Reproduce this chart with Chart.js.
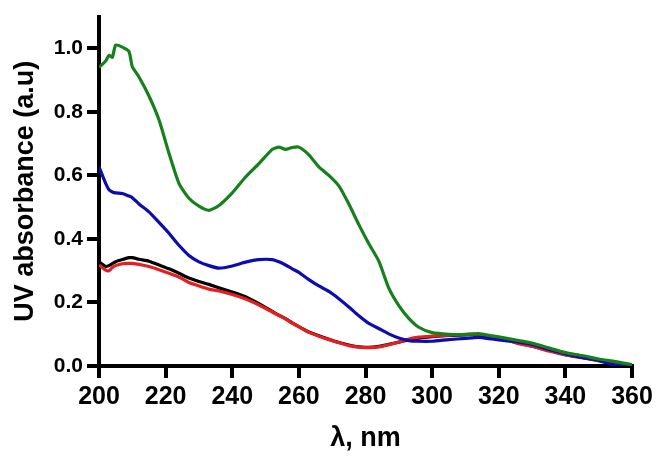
<!DOCTYPE html>
<html>
<head>
<meta charset="utf-8">
<script src="https://cdn.jsdelivr.net/npm/chart.js@4.4.1/dist/chart.umd.min.js"></script>
<style>
  body { margin: 0; background: #fff; }
  canvas { display: block; }
</style>
</head>
<body>
<canvas id="uv" width="664" height="463"></canvas>
<script>
// wavelength grid (nm)
var wavelengths = [200, 202, 203, 204, 205, 207, 209, 210, 212, 215, 218, 221, 224, 227, 230, 233, 236, 240, 244, 248,
  252, 254, 256, 258, 260, 263, 266, 269, 272, 275, 278, 281, 284, 287, 290, 293, 296, 300, 305, 310,
  314, 318, 322, 326, 330, 335, 340, 345, 350, 355, 360];

var greenAbs = [0.94, 0.96, 0.978, 0.972, 1.01, 1.004, 0.99, 0.942, 0.91, 0.85, 0.775, 0.67, 0.575, 0.528, 0.503, 0.49, 0.505, 0.545, 0.595, 0.637,
  0.682, 0.689, 0.682, 0.688, 0.689, 0.665, 0.627, 0.6, 0.567, 0.51, 0.445, 0.385, 0.33, 0.245, 0.19, 0.15, 0.122, 0.105, 0.1, 0.099,
  0.102, 0.095, 0.088, 0.08, 0.072, 0.057, 0.042, 0.033, 0.022, 0.014, 0.004];

var blueAbs = [0.627, 0.575, 0.555, 0.548, 0.545, 0.543, 0.535, 0.53, 0.51, 0.485, 0.452, 0.418, 0.38, 0.348, 0.328, 0.316, 0.308, 0.315, 0.327, 0.335,
  0.335, 0.328, 0.318, 0.306, 0.295, 0.272, 0.252, 0.235, 0.212, 0.186, 0.158, 0.134, 0.118, 0.101, 0.088, 0.08, 0.078, 0.078, 0.083, 0.087,
  0.09, 0.085, 0.08, 0.075, 0.068, 0.052, 0.038, 0.027, 0.017, 0.003, -0.002];

var redAbs = [0.318, 0.302, 0.3, 0.31, 0.316, 0.322, 0.323, 0.323, 0.32, 0.313, 0.303, 0.292, 0.28, 0.263, 0.252, 0.242, 0.236, 0.225, 0.211, 0.192,
  0.17, 0.159, 0.148, 0.135, 0.123, 0.106, 0.094, 0.083, 0.073, 0.064, 0.059, 0.058, 0.06, 0.067, 0.075, 0.085, 0.091, 0.094, 0.097, 0.1,
  0.1, 0.093, 0.085, 0.07, 0.062, 0.047, 0.035, 0.026, 0.017, 0.008, 0.002];

var blackAbs = [0.328, 0.313, 0.316, 0.322, 0.328, 0.335, 0.341, 0.341, 0.336, 0.33, 0.318, 0.306, 0.292, 0.277, 0.266, 0.257, 0.246, 0.233, 0.218, 0.196,
  0.172, 0.16, 0.149, 0.136, 0.124, 0.107, 0.095, 0.084, 0.074, 0.066, 0.06, 0.059, 0.062, 0.068, 0.075, 0.082, 0.088, 0.092, 0.096, 0.098,
  0.099, 0.092, 0.083, 0.072, 0.062, 0.05, 0.036, 0.027, 0.018, 0.008, 0.0];

var xTicks = [200, 220, 240, 260, 280, 300, 320, 340, 360];
var yTicks = [0.0, 0.2, 0.4, 0.6, 0.8, 1.0];

function pts(vals) {
  return wavelengths.map(function (w, i) { return { x: w, y: vals[i] }; });
}

function series(vals, color) {
  return {
    data: pts(vals),
    borderColor: color,
    backgroundColor: color,
    borderWidth: 3.2,
    pointRadius: 0,
    fill: false,
    tension: 0.2
  };
}

var fontFam = '"Liberation Sans", Arial, Helvetica, sans-serif';

// outward tick marks, placed at the scales' own tick pixels
var tickMarks = {
  id: 'tickMarks',
  afterDraw: function (c) {
    var ctx = c.ctx, a = c.chartArea, len = 12, w = 4;
    ctx.save();
    ctx.fillStyle = '#000';
    c.scales.x.ticks.forEach(function (t) {
      var px = Math.round(c.scales.x.getPixelForValue(t.value));
      ctx.fillRect(px - w / 2, a.bottom, w, len);
    });
    c.scales.y.ticks.forEach(function (t) {
      var py = Math.round(c.scales.y.getPixelForValue(t.value));
      ctx.fillRect(a.left - len, py - w / 2, len, w);
    });
    ctx.restore();
  }
};

// first dataset is drawn on top
var chart = new Chart(document.getElementById('uv'), {
  type: 'line',
  data: {
    datasets: [
      series(greenAbs, '#16801a'),
      series(blueAbs, '#0c0cb0'),
      series(redAbs, '#e81e1e'),
      series(blackAbs, '#000000')
    ]
  },
  plugins: [tickMarks],
  options: {
    responsive: false,
    animation: false,
    layout: { padding: { left: 0, right: 32, top: 10, bottom: 0 } },
    plugins: { legend: { display: false }, tooltip: { enabled: false } },
    scales: {
      x: {
        type: 'linear',
        min: 200,
        max: 360,
        afterBuildTicks: function (s) { s.ticks = xTicks.map(function (v) { return { value: v }; }); },
        afterFit: function (s) { s.height = 97; },
        border: { display: true, color: '#000', width: 4 },
        grid: { drawOnChartArea: false, color: '#000', lineWidth: 4, tickLength: 12 },
        ticks: { color: '#000', padding: 4, maxRotation: 0, font: { family: fontFam, size: 25, weight: 'bold' } },
        title: {
          display: true, text: 'λ, nm', color: '#000',
          padding: { top: 0, bottom: 8 },
          font: { family: fontFam, size: 27, weight: 'bold' }
        }
      },
      y: {
        min: 0,
        max: 1.1,
        afterBuildTicks: function (s) { s.ticks = yTicks.map(function (v) { return { value: v }; }); },
        afterFit: function (s) { s.width = 99; },
        border: { display: true, color: '#000', width: 4 },
        grid: { drawOnChartArea: false, color: '#000', lineWidth: 4, tickLength: 12 },
        ticks: {
          color: '#000', padding: 4,
          font: { family: fontFam, size: 21, weight: 'bold' },
          callback: function (v) { return Number(v).toFixed(1); }
        },
        title: {
          display: true, text: 'UV absorbance (a.u)', color: '#000',
          padding: { top: 9, bottom: 0 },
          font: { family: fontFam, size: 27, weight: 'bold' }
        }
      }
    }
  }
});
</script>
</body>
</html>
